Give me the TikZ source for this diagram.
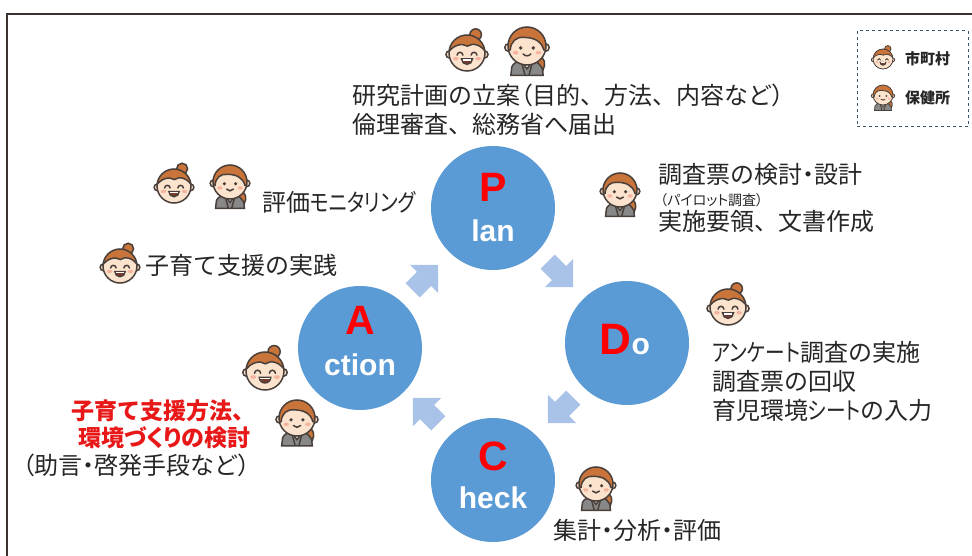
\documentclass[tikz,border=0pt]{standalone}
\usepackage{graphicx}
\usepackage{fontspec}
\newfontfamily\jp{Noto Sans CJK JP}
\newfontfamily\lat{Liberation Sans}
% proportional widths for brackets and middle dots
\newcommand\propw[1]{{\addfontfeature{RawFeature=+palt}#1}}
% condensed katakana runs
\newcommand\kata[1]{\propw{\scalebox{0.82}[1]{#1}}}
\definecolor{cyc}{HTML}{5B9BD5}
\definecolor{flow}{HTML}{A9C2E7}
\definecolor{ink}{HTML}{262626}
\definecolor{hairc}{HTML}{C8743A}
\definecolor{skin}{HTML}{FCE3CD}
\definecolor{cheek}{HTML}{F6B4A0}
\definecolor{outl}{HTML}{4A403B}
\definecolor{suit}{HTML}{888888}
\definecolor{mouthc}{HTML}{7B3A2A}
\definecolor{legendline}{HTML}{3A5570}
\definecolor{alert}{HTML}{E81818}
\tikzset{
  face/.style={scale=#1, yscale=-1},
  % resident-side worker: hair bun, laughing face
  mom/.pic={
    \filldraw[fill=hairc,draw=outl] (0.48,1.02) circle (0.32);
    \filldraw[fill=skin,draw=outl] (-0.97,-0.08) circle (0.2) (0.97,-0.08) circle (0.2);
    \fill[skin] (0,0) circle (1);
    \begin{scope}
      \clip (0,0) circle (1);
      \filldraw[fill=hairc,draw=outl] (-1.1,-0.05) .. controls (-0.75,0.5) and (-0.25,0.55) .. (0.02,0.38)
        .. controls (0.3,0.58) and (0.8,0.5) .. (1.1,-0.05) -- (1.1,1.1) -- (-1.1,1.1) -- cycle;
    \end{scope}
    \draw[outl] (0,0) circle (1);
    \fill[cheek] (-0.62,-0.32) ellipse (0.16 and 0.1) (0.62,-0.32) ellipse (0.16 and 0.1);
    \draw[outl,line cap=round] (-0.55,-0.12) arc (180:0:0.16) (0.23,-0.12) arc (180:0:0.16);
    \filldraw[fill=mouthc,draw=outl] (-0.3,-0.33) -- (0.3,-0.33) arc (0:-180:0.3) -- cycle;
    \fill[white] (-0.24,-0.35) rectangle (0.24,-0.43);
  },
  % health-centre worker: side parting, suit
  staff/.pic={
    \filldraw[fill=suit,draw=outl] (-0.85,-1.55) -- (-0.8,-1.1) .. controls (-0.72,-0.9) and (-0.55,-0.82) .. (-0.3,-0.8)
      -- (0.3,-0.8) .. controls (0.55,-0.82) and (0.72,-0.9) .. (0.8,-1.1) -- (0.85,-1.55) -- cycle;
    \filldraw[fill=white,draw=outl] (-0.3,-0.8) -- (0,-1.2) -- (0.3,-0.8) -- cycle;
    \draw[outl] (-0.3,-0.8) -- (-0.1,-1.55) (0.3,-0.8) -- (0.1,-1.55);
    \filldraw[fill=hairc,draw=outl] (0.55,-0.45) .. controls (0.95,-0.6) and (1.0,-0.95) .. (0.85,-1.25)
      .. controls (0.7,-1.0) and (0.55,-0.85) .. (0.4,-0.75) -- cycle;
    \filldraw[fill=skin,draw=outl] (-0.97,-0.08) circle (0.2) (0.97,-0.08) circle (0.2);
    \fill[skin] (0,0) circle (1);
    \begin{scope}
      \clip (0,0) circle (1);
      \filldraw[fill=hairc,draw=outl] (-1.1,-0.2) -- (-0.88,-0.2) .. controls (-0.85,0.25) and (-0.55,0.5) .. (-0.15,0.45)
        .. controls (0.3,0.45) and (0.75,0.3) .. (0.88,-0.2) -- (1.1,-0.2) -- (1.1,1.1) -- (-1.1,1.1) -- cycle;
    \end{scope}
    \draw[outl] (0,0) circle (1);
    \fill[cheek] (-0.6,-0.35) ellipse (0.15 and 0.1) (0.6,-0.35) ellipse (0.15 and 0.1);
    \fill[outl] (-0.33,-0.1) circle (0.1) (0.33,-0.1) circle (0.1);
    \draw[outl,line cap=round] (-0.2,-0.42) .. controls (-0.1,-0.55) and (0.1,-0.55) .. (0.2,-0.42);
  },
  flowarrow/.pic={
    \fill[flow] (-16,-10) -- (0,-10) -- (0,-20) -- (20,0) -- (0,20) -- (0,10) -- (-16,10) -- cycle;
  },
  stage/.style={circle, fill=cyc, minimum size=124pt, inner sep=0},
  big/.style={font=\lat\bfseries\fontsize{41}{45}\selectfont, text=red, inner sep=0, anchor=base},
  small/.style={font=\lat\bfseries\fontsize{30}{34}\selectfont, text=white, inner sep=0, anchor=base},
  jptext/.style={font=\jp\fontsize{24}{28}\selectfont, text=ink, inner sep=0, anchor=base west},
  redtext/.style={font=\jp\bfseries\fontsize{23}{27}\selectfont, text=alert, inner sep=0, anchor=base east},
  legendtext/.style={font=\jp\bfseries\fontsize{15}{18}\selectfont, text=ink, inner sep=0, anchor=west},
  bigface/.style={line width=1.5pt},
  tinyface/.style={line width=0.8pt}
}
\begin{document}
\begin{tikzpicture}[x=1pt, y=-1pt]
\useasboundingbox (0,0) rectangle (972,556);
\fill[white] (0,0) rectangle (972,556);
% outer frame (open to the right and bottom)
\draw[line width=1.5pt, color=outl!80!black] (7,556) -- (7,14) -- (972,14);

% legend
\draw[legendline, dashed, line width=1pt] (857,31) rectangle (968,127);
\pic[face=10, tinyface] at (883,59) {mom};
\pic[face=10, tinyface] at (883,95) {staff};
\node[legendtext] (lg1) at (905,59) {市町村};
\node[legendtext] (lg2) at (905,98) {保健所};

% PDCA stages
\node[stage] (P) at (493,208) {};
\node[stage] (D) at (627,343) {};
\node[stage] (C) at (493,480) {};
\node[stage] (A) at (360,348) {};

\node[big] (Pl) at (493,202) {P};
\node[small] (Pw) at (493,242) {lan};
\node[big] (Al) at (360,334) {A};
\node[small] (Aw) at (360,375) {ction};
\node[inner sep=0, anchor=base] (Dl) at (625,354) {\lat\bfseries\color{red}\fontsize{44}{48}\selectfont D\color{white}\fontsize{30}{34}\selectfont o};
\node[big] (Cl) at (493,470) {C};
\node[small] (Cw) at (493,508) {heck};

% cycle arrows
\pic[rotate=45] at (424,279) {flowarrow};
\pic[rotate=-45] at (559,273) {flowarrow};
\pic[rotate=-135] at (562,409) {flowarrow};
\pic[rotate=135] at (427,412) {flowarrow};

% Plan
\pic[face=18, bigface] at (467,53) {mom};
\pic[face=19, bigface] at (527,46) {staff};
\node[jptext] (p1) at (352,105) {研究計画の立案\propw{（}目的、方法、内容など\propw{）}};
\node[jptext] (p2) at (352,134) {倫理審査、総務省へ届出};

\pic[face=17, bigface] at (620,190) {staff};
\node[jptext] (p3) at (658,184) {調査票の検討\propw{・}設計};
\node[font=\jp\fontsize{14}{16}\selectfont, text=ink, inner sep=0, anchor=base west] (p4) at (660,206) {\propw{（パイロット}調査\propw{）}};
\node[jptext] (p5) at (658,231) {実施要領、文書作成};

% Do
\pic[face=18, bigface] at (728,307) {mom};
\node[jptext] (d1) at (712,361) {\kata{アンケート}調査の実施};
\node[jptext] (d2) at (712,390) {調査票の回収};
\node[jptext] (d3) at (712,419) {育児環境\kata{シート}の入力};

% Check
\pic[face=17, bigface] at (596,484) {staff};
\node[jptext] (c1) at (553,539) {集計\propw{・}分析\propw{・}評価};

% Action
\pic[face=17, bigface] at (174,186) {mom};
\pic[face=17, bigface] at (230,182) {staff};
\node[jptext] (a1) at (262,212) {評価\kata{モニタリング}};
\pic[face=17, bigface] at (120,266) {mom};
\node[jptext] (a2) at (145,274) {子育て支援の実践};
\pic[face=19, bigface] at (265,371) {mom};
\pic[face=18, bigface] at (297,418) {staff};
\node[redtext] (a3) at (256,419) {子育て支援方法、};
\node[redtext] (a4) at (251,446) {環境\propw{づくり}の検討};
\node[jptext] (a5) at (22,474) {\propw{（}助言\propw{・}啓発手段など\propw{）}};
\end{tikzpicture}
\end{document}
